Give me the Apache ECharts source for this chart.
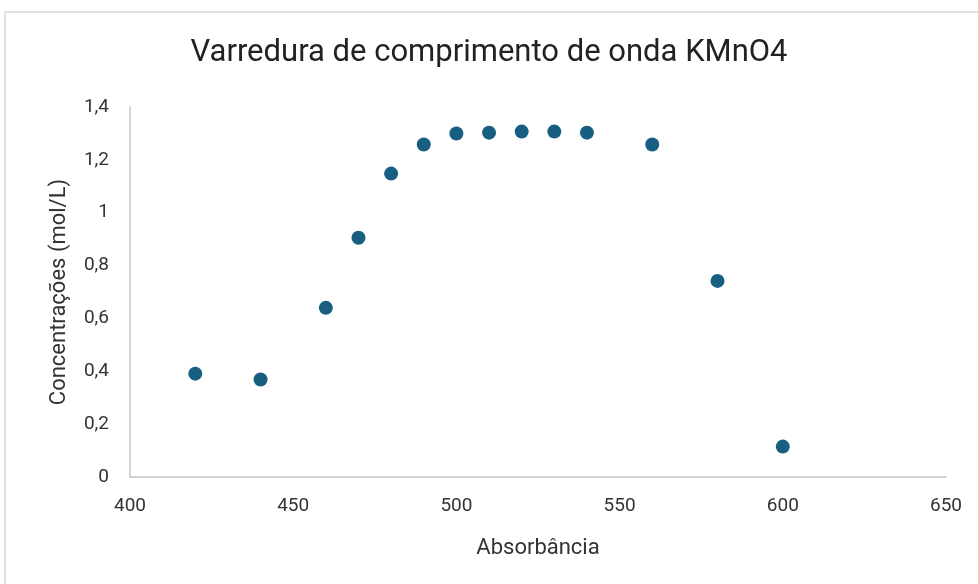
<!DOCTYPE html>
<html>
<head>
<meta charset="utf-8">
<script src="https://cdn.jsdelivr.net/npm/echarts@6/dist/echarts.min.js"></script>
<style>
  html, body { margin: 0; padding: 0; background: #fff; }
  #chart { width: 978px; height: 584px; }
</style>
</head>
<body>
<div id="chart"></div>
<script>
// wavelength (nm) vs reading
const wavelengths = [420, 440, 460, 470, 480, 490, 500, 510, 520, 530, 540, 560, 580, 600];
const concentrations = [0.391, 0.369, 0.64, 0.905, 1.148, 1.258, 1.30, 1.303, 1.307, 1.307, 1.303, 1.258, 0.742, 0.115];

const points = wavelengths.map((w, i) => [w, concentrations[i]]);
const fmtComma = (v) => String(Math.round(v * 10) / 10).replace(".", ",");
const FONT = "Roboto, 'Liberation Sans', sans-serif";

const chart = echarts.init(document.getElementById("chart"), null, { renderer: "canvas" });

chart.setOption({
  backgroundColor: "#ffffff",
  animation: false,
  title: {
    text: "Varredura de comprimento de onda KMnO4",
    left: "center",
    top: 33,
    textStyle: { fontFamily: FONT, fontSize: 31, fontWeight: 400, color: "#222" },
  },
  graphic: [
    {
      type: "rect",
      silent: true,
      z: -1,
      shape: { x: 5, y: 12, width: 1000, height: 600 },
      style: { fill: "none", stroke: "#d9d9d9", lineWidth: 1.5 },
    },
  ],
  grid: { left: 130, right: 32, top: 107, bottom: 107 },
  xAxis: {
    type: "value",
    min: 400,
    max: 650,
    interval: 50,
    name: "Absorbância",
    nameLocation: "middle",
    nameGap: 60,
    nameTextStyle: { fontFamily: FONT, fontSize: 22, color: "#333" },
    axisLine: { show: true, lineStyle: { color: "#c4c4c4", width: 1.5 } },
    axisTick: { show: false },
    splitLine: { show: false },
    axisLabel: { fontFamily: FONT, fontSize: 19, color: "#333", margin: 20 },
  },
  yAxis: {
    type: "value",
    min: 0,
    max: 1.4,
    interval: 0.2,
    name: "Concentrações (mol/L)",
    nameLocation: "middle",
    nameGap: 60,
    nameRotate: 90,
    nameTextStyle: { fontFamily: FONT, fontSize: 22, color: "#333" },
    axisLine: { show: true, lineStyle: { color: "#c4c4c4", width: 1.5 } },
    axisTick: { show: false },
    splitLine: { show: false },
    axisLabel: { fontFamily: FONT, fontSize: 19, color: "#333", margin: 21, formatter: fmtComma },
  },
  series: [
    {
      name: "Concentração",
      type: "scatter",
      data: points,
      symbol: "circle",
      symbolSize: 14,
      itemStyle: { color: "#175e81", opacity: 1 },
    },
  ],
});
</script>
</body>
</html>
